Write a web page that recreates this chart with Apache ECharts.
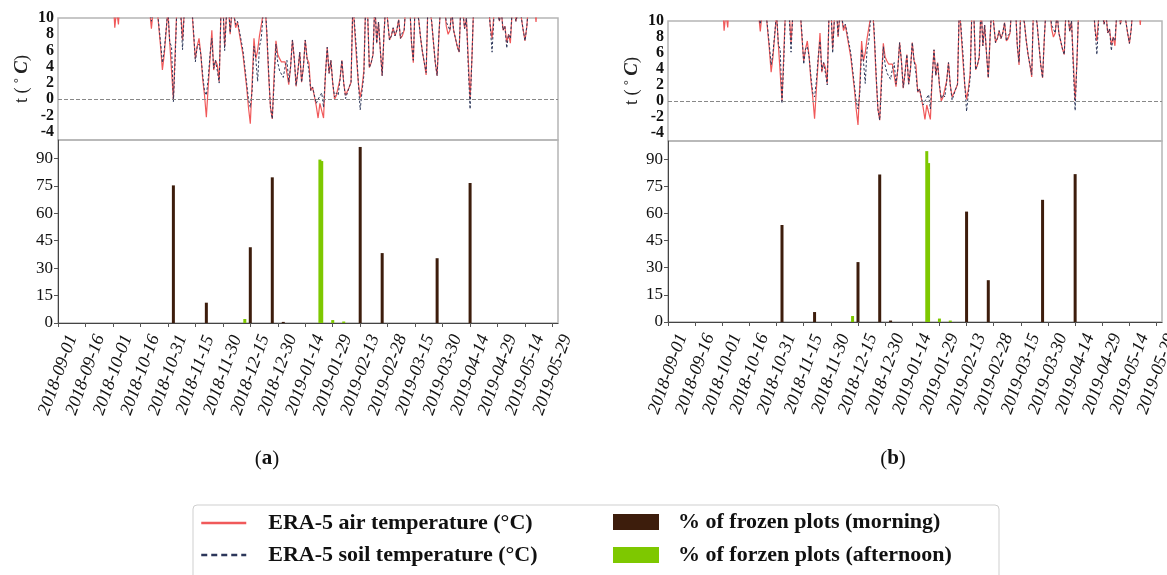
<!DOCTYPE html>
<html>
<head>
<meta charset="utf-8">
<title>ERA-5 temperature / frozen plots</title>
<script src="https://cdn.jsdelivr.net/npm/echarts@6/dist/echarts.min.js"></script>
<style>
  html, body { margin: 0; padding: 0; background: #fff; }
  #chart { width: 1167px; height: 575px; }
</style>
</head>
<body>
<div id="chart"></div>
<script>
// x 轴刻度：2018-09-01 起每 15 天
var dateLabels = ['2018-09-01', '2018-09-16', '2018-10-01', '2018-10-16', '2018-10-31', '2018-11-15',
  '2018-11-30', '2018-12-15', '2018-12-30', '2019-01-14', '2019-01-29', '2019-02-13', '2019-02-28',
  '2019-03-15', '2019-03-30', '2019-04-14', '2019-04-29', '2019-05-14', '2019-05-29'];
var tempTicks = [-4, -2, 0, 2, 4, 6, 8, 10];
var pctTicks = [0, 15, 30, 45, 60, 75, 90];

// 温度（自 2018-09-01 起的天数），>10 的值在图上被裁掉
var tempDays = [0, 30, 31, 32, 33, 34, 48, 50, 51, 52, 54, 56, 57, 58, 60, 61, 62, 63, 64, 65, 67, 68, 69, 70,
  73, 74, 75, 76, 77, 78, 79, 80, 81, 82, 83, 84, 85, 86, 87, 88, 89, 90, 91, 92, 93, 94, 95, 96, 97, 98, 99,
  101, 102, 103, 104, 105, 106, 107, 108, 109, 110, 111, 112, 113, 114, 115, 116, 117, 118, 119, 120, 121, 122, 123, 124, 125, 126, 127, 128, 129, 130,
  131, 132, 133, 134, 135, 136, 137, 138, 139, 141, 142, 143, 144, 145, 146, 147, 148, 149, 150, 151, 152, 153, 154, 155, 156, 157, 158, 159, 160,
  161, 162, 163, 164, 165, 166, 167, 168, 169, 170, 171, 172, 173, 174, 175, 176, 177, 178, 179, 180, 181, 182, 183, 184, 185, 186, 187, 188, 189, 190,
  192, 193, 194, 195, 196, 197, 198, 199, 200, 201, 202, 203, 204, 205, 206, 207, 208, 209, 211, 212, 213, 214, 215, 216, 218, 219, 220, 221, 222, 223, 224, 225, 226, 227,
  235, 236, 237, 238, 239, 241, 242, 243, 244, 245, 246, 247, 248, 249, 250, 251, 252, 253, 254, 255, 256, 257, 260, 261, 262, 273];
var airTemp = [16, 13, 8.8, 11, 9.2, 13, 14, 11, 8.7, 11, 11.5, 6.5, 3.6, 5.5, 11, 7, 6.8, 0, 6, 12, 11, 7.3, 11, 13,
  11.5, 8, 5, 6.5, 7.5, 5.5, 2.5, 0.5, -2.2, 1.5, 5, 8.5, 3.6, 4.8, 4.2, 2.2, 11, 12, 6.5, 10.5, 12, 8, 11, 10.5, 8.8, 9.5, 8.1,
  5.5, 3.5, 1.5, -1, -3, 2, 7.5, 5, 6, 7.8, 7.9, 10.5, 12, 8, 3, -1, -2.4, 3, 7.2, 5.5, 5, 4.6, 4.6, 4.6, 4.8, 1.8, 4, 7.3, 5, 1.6,
  3.5, 5.8, 2.1, 4, 7.3, 5, 4.5, 1.1, 1.5, -0.8, -2.3, -0.5, -0.3, -2.3, 3, 6.4, 3.2, 4.8, 2, 0, 0.5, 0.5, 2.5, 4.8, 2, 0.5, 1, 1.5, 2.1,
  12, 12, 5, 2, 0.2, 1.5, 3.5, 12, 11, 3.9, 4.5, 5.5, 12, 6.9, 9.5, 6, 2.9, 8, 12, 12, 7.3, 7.8, 8.8, 7.8, 8.5, 9.8, 7.5, 7.8, 8.5, 12,
  12, 7, 4.5, 12, 11, 9.7, 7.5, 5.8, 4.5, 3, 12, 11, 9.6, 7, 4.5, 2.9, 8, 12, 11.5, 9, 8, 8.5, 11, 8.5, 6.5, 5.8, 12, 11, 8.7, 10, 5, 0, 5, 12,
  12, 9, 7.5, 10.5, 12, 9.6, 11, 8.5, 9, 7, 8, 6.9, 11, 12, 9.6, 10.5, 12, 10, 8.5, 7.2, 9, 12, 12, 9.5, 13, 16];
var soilTemp = [16, 14, 12, 12.5, 12, 13, 14, 11, 9.6, 11, 11.5, 7, 4.5, 6, 11, 7, 6.5, -0.3, 5, 12, 10.5, 6.1, 11, 13,
  11.5, 8.5, 4.6, 6.5, 6.8, 5.5, 3, 1, 0.5, 2.5, 5.5, 7.5, 3.8, 4.8, 3.5, 2, 11, 12, 6, 10.5, 12, 8.2, 11, 10.5, 9.2, 9.6, 8.5,
  6, 4, 2, 0, -1, 1, 6.5, 5, 2.2, 6.5, 7.5, 10.5, 12, 8.5, 3.5, -1, -2.4, 2, 6.8, 4.5, 3.5, 3.6, 2.7, 4, 4.8, 2.1, 4, 7.3, 5, 1.7,
  3.5, 5.8, 2.1, 4, 7.3, 5, 3.5, 1.1, 1.5, -0.5, 0, -0.1, 0.8, -1, 3, 6.4, 3.2, 4.8, 2, 0.3, 0.8, 0.5, 2.5, 4.8, 2, 0.1, 0.3, 1.5, 2.1,
  12, 12, 6, 2, -1.3, 1, 2.9, 12, 11, 3.9, 4.5, 5.5, 12, 6.9, 9.5, 6, 2.9, 8, 12, 12, 7.3, 7.8, 8.8, 7.8, 8.5, 9.8, 7.5, 8.2, 8.5, 12,
  12, 7, 4.8, 12, 11, 9.7, 7.5, 5.8, 4.5, 3.3, 12, 11, 9.6, 7, 4.5, 2.9, 8, 12, 11.5, 9.5, 9.3, 8.5, 11, 8.5, 6.5, 5.8, 12, 11, 8.7, 10, 4, -1.2, 5, 12,
  12, 9, 5.8, 10, 12, 9.6, 11, 8.5, 9, 6.3, 8, 7.5, 11, 12, 9.6, 10.5, 12, 10, 8.5, 7.2, 9, 12, 12, 11, 13, 16];

// 冻结样地百分比
var morningDays = [63, 81, 105, 117, 123, 165, 177, 207, 225];
var morningA = [75.2, 11.1, 41.4, 79.6, 0.6, 96.2, 38.2, 35.4, 76.5];
var morningB = [53.6, 5.5, 33.1, 81.5, 0.8, 61.0, 23.1, 67.5, 81.7];
var afternoonDays = [102, 143, 144, 150, 156];
var afternoonA = [2.2, 89.3, 88.5, 1.6, 0.8];
var afternoonB = [3.3, 94.4, 87.8, 1.9, 0.8];

var AIR = 'ERA-5 air temperature (°C)';
var SOIL = 'ERA-5 soil temperature (°C)';
var MORNING = '% of frozen plots (morning)';
var AFTERNOON = '% of forzen plots (afternoon)';
var FONT = "'Liberation Serif', serif";
var tickDays = dateLabels.map(function (_, i) { return i * 15; });

function pairs(days, vals) {
  return days.map(function (d, i) { return [d, vals[i]]; });
}

// 上图 x 轴（隐藏）
function topX(gi) {
  return {
    type: 'value', gridIndex: gi, min: 0, max: 273,
    axisLine: {show: false}, axisTick: {show: false}, axisLabel: {show: false}, splitLine: {show: false}
  };
}

// 下图 x 轴（日期）
function bottomX(gi) {
  return {
    type: 'value', gridIndex: gi, min: 0, max: 273,
    axisLine: {show: true, lineStyle: {color: '#444', width: 1}},
    axisTick: {show: true, customValues: tickDays, length: 4, lineStyle: {color: '#555'}},
    axisLabel: {
      customValues: tickDays,
      formatter: function (v) { return dateLabels[Math.round(v / 15)]; },
      rotate: 70, align: 'center', verticalAlign: 'middle', margin: 52,
      fontFamily: FONT, fontStyle: 'italic', fontSize: 18, color: '#111'
    },
    splitLine: {show: false}
  };
}

function topY(gi) {
  return {
    type: 'value', gridIndex: gi, min: -5, max: 10,
    name: 't ( {d|°} {c|C})', nameLocation: 'middle', nameRotate: 90, nameGap: 26,
    nameTextStyle: {
      fontFamily: FONT, fontSize: 18, color: '#222',
      rich: {
        d: {fontFamily: FONT, fontSize: 12, fontWeight: 'bold', color: '#222', verticalAlign: 'top'},
        c: {fontFamily: FONT, fontSize: 19, fontWeight: 'bold', fontStyle: 'italic', color: '#222'}
      }
    },
    axisLine: {show: false}, axisTick: {show: false}, splitLine: {show: false},
    axisLabel: {customValues: tempTicks, fontFamily: FONT, fontSize: 16, fontWeight: 'bold', color: '#111', margin: 4}
  };
}

function bottomY(gi) {
  return {
    type: 'value', gridIndex: gi, min: 0, max: 100,
    axisLine: {show: true, lineStyle: {color: '#444'}},
    axisTick: {show: true, customValues: pctTicks, length: 4, lineStyle: {color: '#555'}},
    splitLine: {show: false},
    axisLabel: {customValues: pctTicks, fontFamily: FONT, fontSize: 17, color: '#111', margin: 5}
  };
}

function tempSeries(xi, yi) {
  return [
    {
      name: AIR, type: 'line', xAxisIndex: xi, yAxisIndex: yi, data: pairs(tempDays, airTemp),
      showSymbol: false, symbol: 'none', lineStyle: {color: '#f0595a', width: 1.2}, itemStyle: {color: '#f0595a'},
      markLine: {
        silent: true, symbol: 'none', label: {show: false},
        lineStyle: {color: '#888', type: 'dashed', width: 1}, data: [{yAxis: 0}]
      }
    },
    {
      name: SOIL, type: 'line', xAxisIndex: xi, yAxisIndex: yi, data: pairs(tempDays, soilTemp),
      showSymbol: false, symbol: 'none', lineStyle: {color: '#2c375a', width: 1, type: [2.5, 2]}, itemStyle: {color: '#2c375a'}
    }
  ];
}

function barSeries(xi, yi, morning, afternoon) {
  return [
    {
      name: MORNING, type: 'bar', xAxisIndex: xi, yAxisIndex: yi, barWidth: 3, barGap: '-100%',
      data: pairs(morningDays, morning), itemStyle: {color: '#3d1d0c'}
    },
    {
      name: AFTERNOON, type: 'bar', xAxisIndex: xi, yAxisIndex: yi, barWidth: 3, barGap: '-100%',
      data: pairs(afternoonDays, afternoon), itemStyle: {color: '#7ec800'}
    }
  ];
}

var gridStyle = {show: true, borderColor: '#b5b5b5', borderWidth: 1.5, outerBoundsMode: 'none', containLabel: false};

var legendText = {fontFamily: FONT, fontSize: 22, fontWeight: 'bold', color: '#111', lineHeight: 20};

var option = {
  animation: false,
  backgroundColor: '#fff',
  grid: [
    Object.assign({left: 58, top: 18, width: 500, height: 122}, gridStyle),
    Object.assign({left: 58, top: 140, width: 500, height: 183}, gridStyle),
    Object.assign({left: 668, top: 21, width: 494, height: 120}, gridStyle),
    Object.assign({left: 668, top: 141, width: 494, height: 181}, gridStyle)
  ],
  xAxis: [topX(0), bottomX(1), topX(2), bottomX(3)],
  yAxis: [topY(0), bottomY(1), topY(2), bottomY(3)],
  legend: [
    {
      left: 200, top: 512, padding: 0, orient: 'vertical', itemGap: 10, itemWidth: 45, itemHeight: 18,
      selectedMode: false,
      itemStyle: {opacity: 0},
      lineStyle: {width: 2.5},
      data: [
        {name: AIR},
        {name: SOIL, lineStyle: {type: [6, 4], width: 2.5}}
      ],
      textStyle: Object.assign({padding: [0, 0, 0, 17]}, legendText)
    },
    {
      left: 613, top: 511, padding: 0, orient: 'vertical', itemGap: 11, itemWidth: 46, itemHeight: 16, icon: 'rect',
      data: [MORNING, AFTERNOON], selectedMode: false,
      textStyle: Object.assign({padding: [0, 0, 0, 14]}, legendText)
    }
  ],
  graphic: [
    {
      type: 'rect', z: -1, silent: true,
      shape: {x: 193, y: 505, width: 806, height: 90, r: 4},
      style: {fill: 'none', stroke: '#cfcfcf', lineWidth: 1}
    },
    {
      type: 'text', x: 267, y: 459,
      style: {text: '({b|a})', align: 'center', verticalAlign: 'middle', fontFamily: FONT, fontSize: 21, fill: '#111',
        rich: {b: {fontFamily: FONT, fontSize: 21, fontWeight: 'bold', fill: '#111'}}}
    },
    {
      type: 'text', x: 893, y: 459,
      style: {text: '({b|b})', align: 'center', verticalAlign: 'middle', fontFamily: FONT, fontSize: 21, fill: '#111',
        rich: {b: {fontFamily: FONT, fontSize: 21, fontWeight: 'bold', fill: '#111'}}}
    }
  ],
  series: []
    .concat(tempSeries(0, 0))
    .concat(barSeries(1, 1, morningA, afternoonA))
    .concat(tempSeries(2, 2))
    .concat(barSeries(3, 3, morningB, afternoonB))
};

var myChart = echarts.init(document.getElementById('chart'));
myChart.setOption(option);
</script>
</body>
</html>
